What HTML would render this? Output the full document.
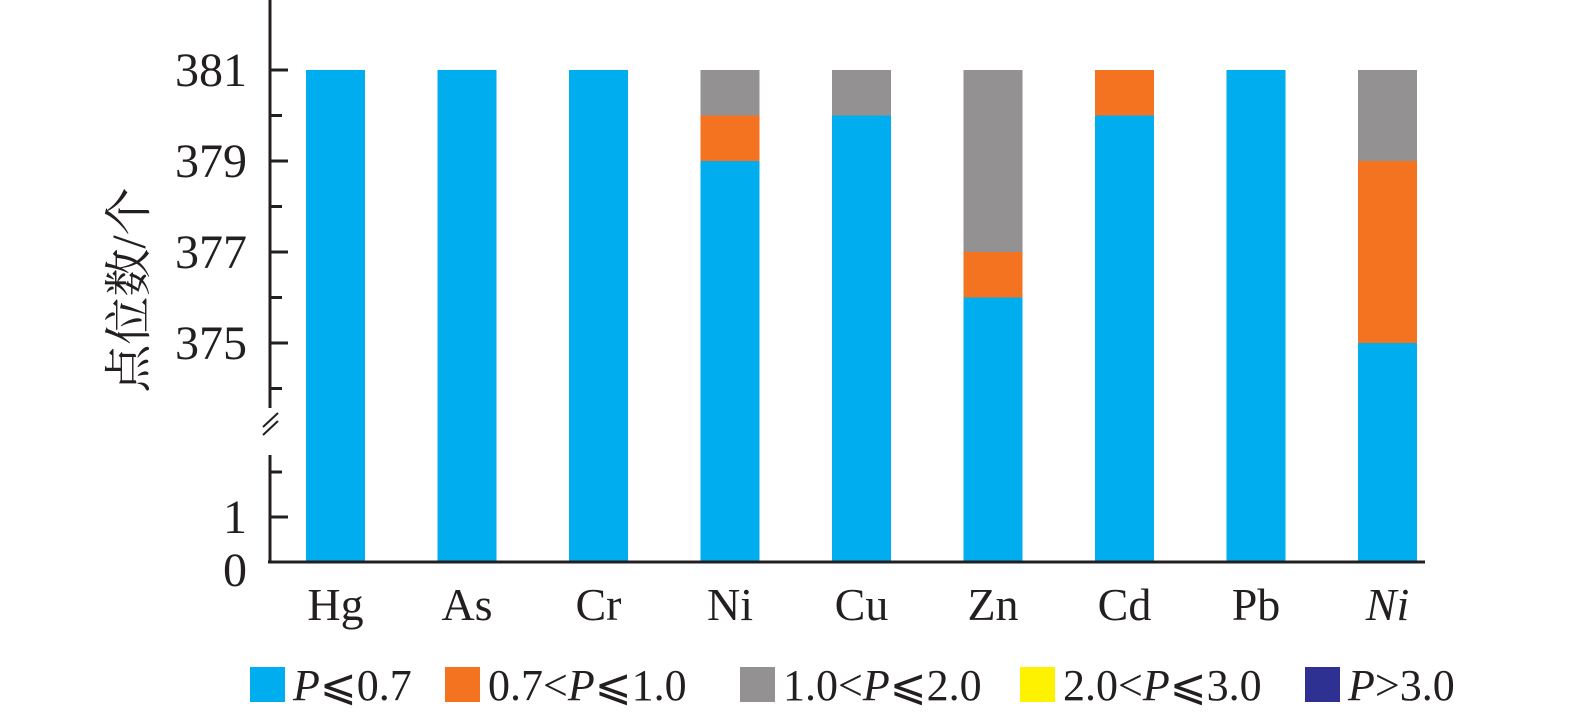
<!DOCTYPE html>
<html><head><meta charset="utf-8"><style>
body{margin:0;background:#fff}
svg{display:block;font-family:"Liberation Serif","Noto Serif CJK SC",serif}
</style></head><body>
<svg id="chart" width="1575" height="719">
<g id="bars"></g>
<g id="axes" stroke="#231f20" stroke-width="3" fill="none">
<line x1="270" y1="0" x2="270" y2="408"/>
<line x1="270" y1="455" x2="270" y2="563"/>
<line x1="263" y1="427" x2="278" y2="413" stroke-width="2"/>
<line x1="263" y1="435" x2="278" y2="421" stroke-width="2"/>
<line x1="268" y1="562" x2="1425" y2="562"/>
</g>
<g id="ticks"></g>
<text x="0" y="0" transform="translate(145,290) rotate(-90)" text-anchor="middle" font-size="48" fill="#231f20">点位数/个</text>
<g id="legend" font-size="44" fill="#231f20">
<rect x="250" y="667" width="35" height="35" fill="#00aeef"/>
<text x="293" y="700"><tspan font-style="italic">P</tspan>⩽0.7</text>
<rect x="445" y="667" width="35" height="35" fill="#f47321"/>
<text x="488" y="700">0.7&lt;<tspan font-style="italic">P</tspan>⩽1.0</text>
<rect x="740" y="667" width="35" height="35" fill="#939192"/>
<text x="783" y="700">1.0&lt;<tspan font-style="italic">P</tspan>⩽2.0</text>
<rect x="1020" y="667" width="35" height="35" fill="#fff200"/>
<text x="1063" y="700">2.0&lt;<tspan font-style="italic">P</tspan>⩽3.0</text>
<rect x="1305" y="667" width="35" height="35" fill="#2e3192"/>
<text x="1348" y="700"><tspan font-style="italic">P</tspan>&gt;3.0</text>
</g>
</svg>
<script>
const categories=["Hg","As","Cr","Ni","Cu","Zn","Cd","Pb","Ni"];
const italicCats=[false,false,false,false,false,false,false,false,true];
const seriesLow=[381,381,381,379,380,376,380,381,375];
const seriesMid=[0,0,0,1,0,1,1,0,4];
const seriesHigh=[0,0,0,1,1,4,0,0,2];
const upperTicks=[381,379,377,375];
const lowerTicks=[1,0];
const colors=["#00aeef","#f47321","#939192"];
const NS="http://www.w3.org/2000/svg";
const base=562;
function yv(v){ if(v>=370) return 70+(381-v)*45.5; return base-v*45; }
function xc(i){ return 335.5+i*131.5; }
const bars=document.getElementById('bars');
const ticks=document.getElementById('ticks');
const svg=document.getElementById('chart');
categories.forEach((c,i)=>{
  const vals=[seriesLow[i],seriesMid[i],seriesHigh[i]];
  let cum=0;
  vals.forEach((v,k)=>{
    if(v<=0) return;
    const y0=cum===0?base:yv(cum);
    cum+=v;
    const y1=yv(cum);
    const r=document.createElementNS(NS,'rect');
    r.setAttribute('x',xc(i)-29.5);r.setAttribute('width',59);
    r.setAttribute('y',y1);r.setAttribute('height',y0-y1);
    r.setAttribute('fill',colors[k]);
    
    
    bars.appendChild(r);
  });
  const t=document.createElementNS(NS,'text');
  t.setAttribute('x',xc(i));t.setAttribute('y',620);
  t.setAttribute('text-anchor','middle');t.setAttribute('font-size','46');
  t.setAttribute('fill','#231f20');
  if(italicCats[i]) t.setAttribute('font-style','italic');
  t.textContent=c;
  
  
  svg.appendChild(t);
});
function tick(y,len){
  const l=document.createElementNS(NS,'line');
  l.setAttribute('x1',270);l.setAttribute('x2',270+len);
  l.setAttribute('y1',y);l.setAttribute('y2',y);
  l.setAttribute('stroke','#231f20');l.setAttribute('stroke-width',3);
  
  
  ticks.appendChild(l);
}
function label(y,s){
  const t=document.createElementNS(NS,'text');
  t.setAttribute('x',247);t.setAttribute('y',y+16);
  t.setAttribute('text-anchor','end');t.setAttribute('font-size','48');
  t.setAttribute('fill','#231f20');t.textContent=s;
  
  
  ticks.appendChild(t);
}
upperTicks.forEach(v=>{tick(yv(v),18);label(yv(v),v);tick(yv(v-1),12);});
tick(yv(2),12);
lowerTicks.forEach(v=>{ if(v>0) tick(yv(v),18); label(yv(v)+(v===0?8:0),v);});
</script>
</body></html>
